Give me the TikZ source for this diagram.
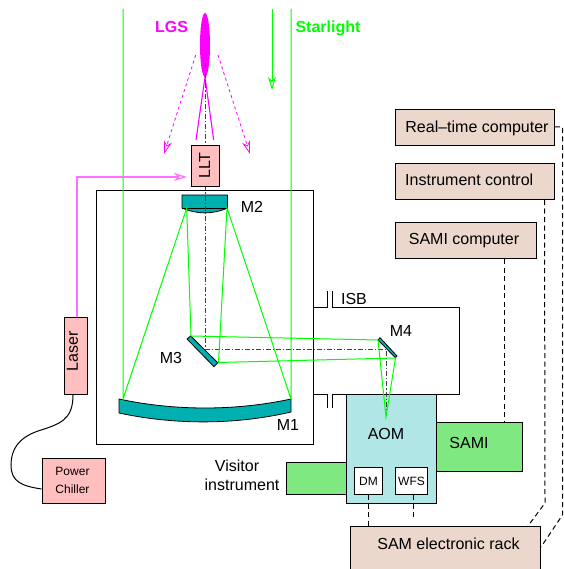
\documentclass[tikz,border=0pt]{standalone}
\usepackage{fontspec}
\setmainfont{Liberation Sans}
\usetikzlibrary{arrows.meta,shapes.geometric}
\definecolor{pinkbox}{HTML}{FFBFBF}
\definecolor{tealm}{HTML}{00B0B0}
\definecolor{cyanbox}{HTML}{B0E6E6}
\definecolor{beige}{HTML}{EBD7CB}
\definecolor{greenbox}{HTML}{80E880}
\definecolor{beam}{HTML}{00FF00}
\definecolor{mag}{HTML}{FF00FF}
\definecolor{maglight}{HTML}{FF70FF}
\newcommand{\fs}[1]{\fontsize{#1}{#1}\selectfont}
\tikzset{
 boxx/.style={draw=black,line width=1pt,rectangle,inner sep=0pt,anchor=north west},
 lab/.style={inner sep=0pt,font=\fs{16}},
 beamline/.style={draw=beam,line width=1pt},
 magline/.style={draw=mag,line width=1.1pt},
 ctrl/.style={draw=black,line width=1pt,dash pattern=on 5pt off 3.5pt},
 axisline/.style={draw=black!75,line width=1pt,dash pattern=on 5pt off 2pt on 1.2pt off 2pt},
 tipopen/.style={-{Stealth[open,length=13pt,width=8pt,inset=4pt]}},
 mirror/.style={fill=tealm,draw=black,line width=0.8pt,line join=round},
}
\begin{document}
\begin{tikzpicture}[x=1pt,y=-1pt]
\useasboundingbox (0,0) rectangle (563,569);
% main enclosure
\node[boxx,minimum width=217pt,minimum height=254pt] (tel) at (96,190) {};
% ISB enclosure
\coordinate (ia) at (313,307);\coordinate (ib) at (327,307);\coordinate (ic) at (327,291);
\coordinate (id) at (332,291);\coordinate (ie) at (332,307);\coordinate (if) at (459,307);
\coordinate (ig) at (459,394);\coordinate (ih) at (332,394);\coordinate (ii) at (332,408);
\coordinate (ij) at (327,408);\coordinate (ik) at (327,394);\coordinate (il) at (313,394);
\draw[line width=1pt] (ia)--(ib)--(ic) (id)--(ie)--(if)--(ig)--(ih)--(ii) (ij)--(ik)--(il);
% boxes
\node[boxx,fill=greenbox,minimum width=60pt,minimum height=32pt] (visitor) at (286,462) {};
\node[boxx,fill=greenbox,minimum width=86pt,minimum height=49pt] (sami) at (436,422) {};
\node[boxx,fill=cyanbox,minimum width=90pt,minimum height=109pt] (aom) at (346,394) {};
\node[boxx,fill=white,minimum width=28pt,minimum height=27pt,font=\fs{12}] (dm) at (354,467) {DM};
\node[boxx,fill=white,minimum width=32pt,minimum height=27pt,font=\fs{12}] (wfs) at (395,467) {WFS};
\node[boxx,fill=beige,minimum width=190pt,minimum height=45pt] (rack) at (350,526) {};
\node[boxx,fill=beige,minimum width=159pt,minimum height=36pt] (rtc) at (395,109) {};
\node[boxx,fill=beige,minimum width=159pt,minimum height=36pt] (icb) at (395,163) {};
\node[boxx,fill=beige,minimum width=141pt,minimum height=36pt] (samic) at (395,222) {};
\node[boxx,fill=pinkbox,minimum width=23pt,minimum height=77pt] (laser) at (64,317) {};
\node[boxx,fill=pinkbox,minimum width=63.5pt,minimum height=45pt] (chiller) at (41.5,458) {};
% labels
\node[lab] (trtc) at (477,128) {Real–time computer};
\node[lab,anchor=west] (ticb) at (405,180) {Instrument control};
\node[lab] (tsamic) at (464,241) {SAMI computer};
\node[lab] (track) at (448.5,543.5) {SAM electronic rack};
\node[lab] (tsami) at (469,443) {SAMI};
\node[lab] (taom) at (386,434) {AOM};
\node[lab,align=center] (tvis) at (242,475) {Visitor\hspace*{10pt}\\[3pt]instrument};
\node[lab,rotate=90] (tlaser) at (72.5,351) {Laser};
\node[inner sep=0pt,align=center,font=\fs{12}] (tchill) at (72.5,480.5) {Power\\[6pt]Chiller};
\node[lab] (tm1) at (288,425) {M1};
\node[lab] (tm2) at (252,207) {M2};
\node[lab] (tm3) at (171,357.5) {M3};
\node[lab] (tm4) at (401,331) {M4};
\node[lab] (tisb) at (354,299) {ISB};
\node[lab,text=mag,font=\fs{16}\bfseries] (tlgs) at (171.5,26.5) {LGS};
\node[lab,text=beam,font=\fs{16}\bfseries] (tstar) at (328,28) {Starlight};
% mirrors
\path[mirror] (182,195)--(227.5,195)--(227.5,208) .. controls (213,214.5) and (197,214.5) .. (182,208)--cycle;
\draw[line width=0.7pt] (182,208)--(227.5,208);
\path[mirror] (119,399) .. controls (175,411) and (235,411) .. (291,399)--(291,412) .. controls (235,425) and (175,425) .. (119,413)--cycle;
\path[mirror] (187,339)--(190.7,336)--(217.7,362.7)--(214,366.7)--cycle;
\path[mirror] (378,340)--(380,337.7)--(397,356)--(395.3,357.6)--cycle;
% optical axis
\coordinate (ax0) at (205,63);\coordinate (ax1) at (205,349);\coordinate (ax2) at (386.5,349);\coordinate (ax3) at (386.5,410);
\draw[axisline] (ax0)--(ax1)--(ax2)--(ax3);
\node[boxx,fill=pinkbox,minimum width=28pt,minimum height=41pt] (llt) at (191,145) {};
\node[lab,rotate=90] (tllt) at (204.5,165.5) {LLT};
% beam points
\coordinate (ml) at (123,399);\coordinate (mr) at (291,399);
\coordinate (stl) at (123,9);\coordinate (str) at (291,9);
\coordinate (m2l) at (186.7,208);\coordinate (m2r) at (227,208);
\coordinate (m3a) at (191,336);\coordinate (m3b) at (218.5,362.5);
\coordinate (m4a) at (378,340);\coordinate (m4b) at (395.5,358);
\coordinate (foc) at (386,417);
\coordinate (sa) at (272,9);\coordinate (sb) at (272,90);
\draw[beamline] (stl)--(ml)--(m2l)--(m3a)--(m4a)--(foc)--(m4b)--(m3b)--(m2r)--(mr)--(str);
\draw[beamline,tipopen] (sa)--(sb);
% laser guide star
\node[ellipse,fill=mag,minimum width=10pt,minimum height=64pt,inner sep=0pt] (lgs) at (205,45) {};
\coordinate (ll) at (196,140);\coordinate (lr) at (213.7,140);
\draw[magline] (ll)--(lgs.south)--(lr);
\draw[axisline] (ax0)--(205,85);
\coordinate (da) at (195.7,55);\coordinate (db) at (164,154);
\coordinate (dc) at (218,55);\coordinate (dd) at (250,154);
\draw[magline,line width=0.8pt,dashed,tipopen] (da)--(db);
\draw[magline,line width=0.8pt,dashed,tipopen] (dc)--(dd);
\coordinate (lc) at (77,177);\coordinate (le) at (187,177);
\draw[magline,draw=maglight,tipopen] (laser.north -| lc)--(lc)--(le);
% chiller cable
\draw[line width=1pt] (laser.south -| 73,0) .. controls (73,420) and (60,424) .. (38,431) .. controls (18,438) and (11,450) .. (11,465) .. controls (11,482) and (22,486) .. (chiller.west |- 0,489);
% control lines
\coordinate (rt1) at (562.5,127);\coordinate (rt2) at (562.5,515);
\coordinate (ic2) at (545,503);
\draw[ctrl] (rtc.east |- 0,127)--(rt1)--(rt2)--(rack.east |- 0,547);
\draw[ctrl] (icb.south -| 544.5,0)--(ic2)--(528,526);
\draw[ctrl] (samic.south -| 504,0)--(sami.north -| 504,0);
\draw[ctrl] (dm.south -| 368,0)--(rack.north -| 368,0);
\coordinate (wfe) at (413,519);
\draw[ctrl] (wfs.south -| wfe)--(wfe);
\end{tikzpicture}
\end{document}
